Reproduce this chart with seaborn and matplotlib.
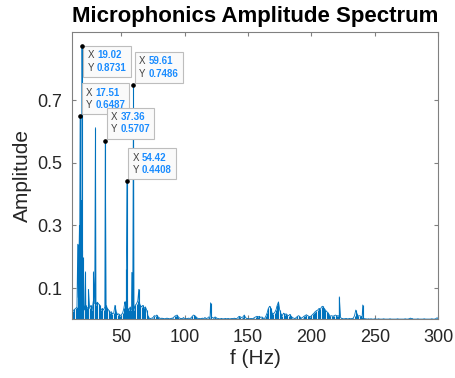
import numpy as np
import pandas as pd
import matplotlib
matplotlib.use("Agg")
import matplotlib.pyplot as plt
from matplotlib.offsetbox import TextArea, HPacker, AnnotationBbox
import seaborn as sns

# floor of the spectrum, one value per Hz from 11 Hz to 300 Hz
floor_start = 11
floor_amp = [
    0.030, 0.028, 0.032, 0.035, 0.040, 0.070, 0.300, 0.330, 0.220, 0.050,   # 11-20
    0.030, 0.045, 0.035, 0.040, 0.035, 0.045, 0.030, 0.060, 0.050, 0.045,   # 21-30
    0.055, 0.050, 0.045, 0.030, 0.035, 0.030, 0.040, 0.045, 0.035, 0.030,   # 31-40
    0.020, 0.025, 0.018, 0.020, 0.045, 0.025, 0.015, 0.018, 0.012, 0.015,   # 41-50
    0.020, 0.035, 0.050, 0.060, 0.035, 0.030, 0.040, 0.030, 0.035, 0.030,   # 51-60
    0.045, 0.050, 0.060, 0.055, 0.045, 0.040, 0.045, 0.035, 0.040, 0.030,   # 61-70
    0.012, 0.004, 0.003, 0.004, 0.006, 0.012, 0.010, 0.014, 0.008, 0.005,   # 71-80
    0.003, 0.004, 0.003, 0.002, 0.003, 0.004, 0.003, 0.002, 0.003, 0.004,   # 81-90
    0.005, 0.010, 0.012, 0.014, 0.008, 0.004, 0.003, 0.002, 0.006, 0.003,   # 91-100
    0.002, 0.003, 0.004, 0.003, 0.005, 0.010, 0.014, 0.012, 0.008, 0.004,   # 101-110
    0.003, 0.002, 0.003, 0.004, 0.003, 0.006, 0.003, 0.004, 0.008, 0.006,   # 111-120
    0.008, 0.006, 0.004, 0.008, 0.005, 0.003, 0.002, 0.002, 0.003, 0.002,   # 121-130
    0.002, 0.003, 0.002, 0.003, 0.002, 0.002, 0.003, 0.002, 0.004, 0.003,   # 131-140
    0.002, 0.006, 0.010, 0.008, 0.006, 0.008, 0.014, 0.006, 0.003, 0.003,   # 141-150
    0.002, 0.003, 0.002, 0.003, 0.006, 0.008, 0.010, 0.008, 0.010, 0.006,   # 151-160
    0.008, 0.004, 0.003, 0.010, 0.020, 0.035, 0.042, 0.035, 0.020, 0.018,   # 161-170
    0.022, 0.030, 0.045, 0.056, 0.030, 0.018, 0.012, 0.020, 0.015, 0.018,   # 171-180
    0.014, 0.012, 0.016, 0.010, 0.006, 0.004, 0.003, 0.006, 0.010, 0.012,   # 181-190
    0.008, 0.004, 0.006, 0.010, 0.012, 0.015, 0.012, 0.010, 0.008, 0.012,   # 191-200
    0.016, 0.020, 0.025, 0.028, 0.030, 0.035, 0.032, 0.040, 0.042, 0.035,   # 201-210
    0.030, 0.025, 0.022, 0.015, 0.010, 0.012, 0.010, 0.012, 0.014, 0.011,   # 211-220
    0.012, 0.010, 0.006, 0.003, 0.002, 0.002, 0.003, 0.002, 0.002, 0.003,   # 221-230
    0.002, 0.003, 0.004, 0.012, 0.030, 0.018, 0.010, 0.012, 0.010, 0.008,   # 231-240
    0.004, 0.002, 0.002, 0.001, 0.002, 0.001, 0.002, 0.001, 0.001, 0.002,   # 241-250
    0.001, 0.001, 0.002, 0.001, 0.001, 0.001, 0.002, 0.001, 0.001, 0.001,   # 251-260
    0.001, 0.002, 0.001, 0.001, 0.001, 0.001, 0.001, 0.002, 0.001, 0.001,   # 261-270
    0.001, 0.001, 0.001, 0.002, 0.001, 0.001, 0.002, 0.004, 0.003, 0.001,   # 271-280
    0.001, 0.001, 0.001, 0.002, 0.001, 0.001, 0.001, 0.001, 0.002, 0.001,   # 281-290
    0.001, 0.001, 0.001, 0.001, 0.002, 0.001, 0.001, 0.002, 0.005, 0.004,   # 291-300
]

# narrow spectral lines on top of the floor
peak_f = [15.6, 17.2, 17.51, 18.2, 19.02, 19.4, 21.7, 24.1, 28.0, 29.6,
          37.36, 52.8, 54.0, 54.42, 58.3, 59.61, 63.8, 120.4, 222.0, 240.5]
peak_amp = [0.240, 0.280, 0.6487, 0.380, 0.8731, 0.200, 0.152, 0.096, 0.152, 0.612,
            0.5707, 0.056, 0.160, 0.4408, 0.150, 0.7486, 0.096, 0.053, 0.072, 0.046]

# data tips shown in the figure
tip_f = [19.02, 17.51, 37.36, 54.42, 59.61]
tip_amp = [0.8731, 0.6487, 0.5707, 0.4408, 0.7486]
tip_below = [True, False, False, False, False]

floor_f = np.arange(floor_start, floor_start + len(floor_amp))
df = pd.DataFrame({
    "f": np.concatenate([floor_f, peak_f]),
    "amp": np.concatenate([floor_amp, peak_amp]),
}).sort_values("f")

sns.set_theme(style="white")
plt.rcParams["font.family"] = ["Liberation Sans", "DejaVu Sans"]

line_c = "#0072BD"
axis_c = "#808080"
text_c = "#262626"

fig = plt.figure(figsize=(4.55, 3.78), dpi=100)
ax = fig.add_axes([0.158, 0.155, 0.805, 0.760])

ax.vlines(df["f"], 0, df["amp"], color=line_c, lw=0.8)
sns.lineplot(data=df, x="f", y="amp", ax=ax, color=line_c, lw=0.6,
             estimator=None, sort=True)

ax.set_xlim(11, 300)
ax.set_ylim(0, 0.917)
ax.set_xticks([50, 100, 150, 200, 250, 300])
ax.set_yticks([0.1, 0.3, 0.5, 0.7])
ax.set_yticklabels(["0.1", "0.3", "0.5", "0.7"])

for s in ax.spines.values():
    s.set_color(axis_c)
    s.set_linewidth(0.8)
ax.tick_params(direction="in", length=3, width=0.8, color=axis_c,
               labelcolor=text_c, labelsize=13, pad=7,
               top=True, right=True, bottom=True, left=True)

ax.set_title("Microphonics Amplitude Spectrum", fontsize=16,
             fontweight="bold", color="black", pad=7)
ax.set_xlabel("f (Hz)", fontsize=15, color=text_c, labelpad=2)
ax.set_ylabel("Amplitude", fontsize=15, color=text_c, labelpad=4)

# data tips: label column and value column packed in one framed box
tip_fs = 7
frame_pad = 3.0  # points (pad 0.3 of fontsize 10)
for fx, fy, below in zip(tip_f, tip_amp, tip_below):
    ax.plot(fx, fy, "o", ms=2.3, color="black", zorder=8)
    keys = TextArea("X\nY", textprops=dict(size=tip_fs, color="#404040",
                                           linespacing=1.3))
    vals = TextArea(f"{fx:.2f}\n{fy:.4f}",
                    textprops=dict(size=tip_fs, color="#1a8cff", weight="bold",
                                   linespacing=1.3))
    box = HPacker(children=[keys, vals], align="top", pad=0, sep=2.2)
    if below:
        xybox, align = (0.8 + frame_pad, -0.3 - frame_pad), (0, 1)
    else:
        xybox, align = (1.0 + frame_pad, 1.5 + frame_pad), (0, 0)
    ab = AnnotationBbox(box, (fx, fy), xybox=xybox, boxcoords="offset points",
                        box_alignment=align, frameon=True, pad=0.3, fontsize=10,
                        bboxprops=dict(boxstyle="square", fc="#fafafa",
                                       ec="#bdbdbd", lw=0.8), zorder=6)
    ax.add_artist(ab)

fig.savefig("out.png", dpi=100)
plt.close(fig)
